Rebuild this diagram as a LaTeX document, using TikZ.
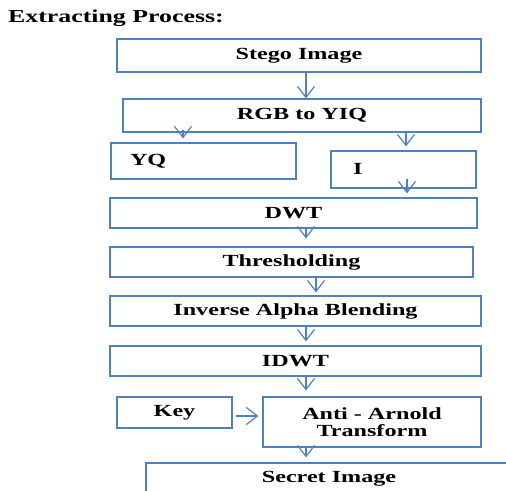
\documentclass[tikz,border=0pt]{standalone}
\usepackage{fontspec}
\setmainfont{Liberation Serif}[FakeStretch=1.42]
\usetikzlibrary{arrows.meta}
\definecolor{boxblue}{RGB}{79,129,189}
\tikzset{
	stagebox/.style={draw=boxblue, line width=1.2pt, inner sep=0pt,
		font=\fontsize{17}{17}\selectfont\bfseries},
	flow/.style={draw=boxblue, line width=1.2pt,
		-{Straight Barb[length=11pt,width=17pt]}}
}

\begin{document}
\begin{tikzpicture}[x=1pt,y=-1pt]
		\clip (0,0) rectangle (506,490);
		\node[anchor=base west, inner sep=0pt, font=\fontsize{18.2}{18}\selectfont\bfseries] (title) at (8,22) {Extracting Process:};
		% main column
		\node[stagebox, minimum width=364pt, minimum height=33pt] (stego) at (299,55.5) {Stego Image};
		\node[stagebox, minimum width=358pt, minimum height=33pt] (rgb) at (302,115.5) {RGB to YIQ};
		\node[stagebox, text width=147pt, inner xsep=19pt, align=left, minimum height=36pt] (yq) at (203.5,161) {\raisebox{3pt}{YQ}};
		\node[stagebox, text width=101pt, inner xsep=22pt, align=left, minimum height=37pt] (i) at (403.5,169.5) {\raisebox{2pt}{I}};
		\node[stagebox, minimum width=367pt, minimum height=30pt] (dwt) at (293.5,213) {DWT};
		\node[stagebox, minimum width=363pt, minimum height=30pt] (thr) at (291.5,262) {Thresholding};
		\node[stagebox, minimum width=371pt, minimum height=30pt] (inv) at (295.5,311) {Inverse Alpha Blending};
		\node[stagebox, minimum width=371pt, minimum height=30pt] (idwt) at (295.5,361) {IDWT};
		\node[stagebox, minimum width=115pt, minimum height=31pt] (key) at (174.5,412.5) {Key};
		\node[stagebox, minimum width=218pt, minimum height=50pt, align=center] (anti) at (372,422) {Anti - Arnold\\Transform};
		\node[stagebox, minimum width=366pt, minimum height=32pt] (secret) at (329,479) {Secret Image};
		% arrows
		\draw[flow] ([xshift=7pt]stego.south) -- ([xshift=4pt]rgb.north);
		\draw[flow] ([xshift=-119pt,yshift=3pt]rgb.south) -- ([xshift=-20.5pt,yshift=4pt]yq.north);
		\draw[flow] ([xshift=104pt]rgb.south) -- ([xshift=2.5pt,yshift=4pt]i.north);
		\draw[flow] ([xshift=3.5pt,yshift=10pt]i.south) -- ([xshift=113.5pt,yshift=4pt]dwt.north);
		\draw[flow] ([xshift=12.5pt]dwt.south) -- ([xshift=14.5pt,yshift=8pt]thr.north);
		\draw[flow] ([xshift=24.5pt]thr.south) -- ([xshift=20.5pt,yshift=3pt]inv.north);
		\draw[flow] ([xshift=10.5pt]inv.south) -- ([xshift=10.5pt,yshift=4pt]idwt.north);
		\draw[flow] ([xshift=10.5pt]idwt.south) -- ([xshift=-66pt,yshift=6pt]anti.north);
		\draw[flow] ([xshift=3pt,yshift=-3.5pt]key.east) -- ([xshift=-4pt,yshift=6pt]anti.west);
		\draw[flow] ([xshift=-66pt]anti.south) -- ([xshift=-23pt,yshift=5pt]secret.north);
\end{tikzpicture}
\end{document}
